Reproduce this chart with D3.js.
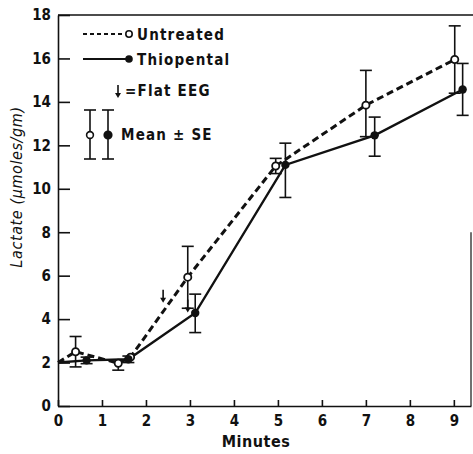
<!doctype html>
<html lang="en">
<head>
<meta charset="utf-8">
<title>Lactate vs minutes</title>
<script src="https://d3js.org/d3.v7.min.js"></script>
<style>
  body { margin: 0; background: #fff; }
  text { font-family: "DejaVu Sans Condensed", "DejaVu Sans", sans-serif; font-stretch: condensed; fill: #111; }
  .axis text { font-size: 15px; font-weight: bold; }
  .axis line, .axis path { stroke: #111; stroke-width: 1.6; }
</style>
</head>
<body>
<div id="chart"></div>
<script>
// tick labels
var minuteTicks = [0, 1, 2, 3, 4, 5, 6, 7, 8, 9];
var lactateTicks = [0, 2, 4, 6, 8, 10, 12, 14, 16, 18];

// Untreated (open circles, dashed)
var untreatedMin = [0, 0.4, 1.37, 1.65, 2.95, 4.95, 7.0, 9.02];
var untreatedLac = [2.0, 2.5, 1.97, 2.25, 5.93, 11.05, 13.85, 15.95];
var untreatedLo  = [null, 1.8, 1.65, null, 4.5, 10.7, 12.4, 14.4];
var untreatedHi  = [null, 3.2, 2.05, null, 7.35, 11.4, 15.45, 17.5];

// Thiopental (filled circles, solid)
var thioMin = [0, 0.65, 1.6, 3.12, 5.17, 7.2, 9.2];
var thioLac = [2.0, 2.1, 2.15, 4.28, 11.1, 12.46, 14.57];
var thioLo  = [null, 1.95, 2.0, 3.38, 9.6, 11.5, 13.38];
var thioHi  = [null, 2.25, 2.3, 5.15, 12.1, 13.3, 15.77];

// flat EEG arrows (tip position)
var eegMin = [2.39, 2.95];
var eegLac = [4.75, 4.3];

var W = 473, H = 454;
var svg = d3.select("#chart").append("svg")
  .attr("width", W).attr("height", H);

var x = d3.scaleLinear().domain([0, 9.39]).range([58, 471]);
var y = d3.scaleLinear().domain([0, 18]).range([406, 15]);

// axes, ticks pointing inward
svg.append("g").attr("class", "axis")
  .attr("transform", "translate(" + x(0) + ",0)")
  .call(d3.axisLeft(y).tickValues(lactateTicks).tickSizeInner(-12).tickSizeOuter(0).tickPadding(7));

svg.append("g").attr("class", "axis")
  .attr("transform", "translate(0," + y(0) + ")")
  .call(d3.axisBottom(x).tickValues(minuteTicks).tickSizeInner(-6).tickSizeOuter(0).tickPadding(9));

// frame top and right
svg.append("line").attr("x1", x(0)).attr("x2", W).attr("y1", y(18)).attr("y2", y(18))
  .attr("stroke", "#111").attr("stroke-width", 1.4);
svg.append("line").attr("x1", x(9.39)).attr("x2", x(9.39)).attr("y1", y(8)).attr("y2", y(0))
  .attr("stroke", "#111").attr("stroke-width", 1.2);

// axis titles
svg.append("text")
  .attr("transform", "translate(22," + 187 + ") rotate(-90)")
  .attr("text-anchor", "middle")
  .style("font-size", "16px").style("font-style", "italic").style("letter-spacing", "0.6px")
  .text("Lactate (\u03bcmoles/gm)");

svg.append("text")
  .attr("x", 256).attr("y", 447)
  .attr("text-anchor", "middle")
  .style("font-size", "16px").style("font-weight", "bold").style("letter-spacing", "0.5px")
  .text("Minutes");

function zip(xs, ys, lo, hi) {
  return xs.map(function(d, i) { return { m: d, v: ys[i], lo: lo[i], hi: hi[i] }; });
}
var untreated = zip(untreatedMin, untreatedLac, untreatedLo, untreatedHi);
var thio = zip(thioMin, thioLac, thioLo, thioHi);

var line = d3.line().x(function(d) { return x(d.m); }).y(function(d) { return y(d.v); });

function errorBars(data, cls) {
  var g = svg.append("g").attr("class", cls).attr("stroke", "#111").attr("stroke-width", 1.6);
  var eb = data.filter(function(d) { return d.lo !== null; });
  g.selectAll(".bar").data(eb).enter().append("line")
    .attr("x1", function(d) { return x(d.m); }).attr("x2", function(d) { return x(d.m); })
    .attr("y1", function(d) { return y(d.lo); }).attr("y2", function(d) { return y(d.hi); });
  g.selectAll(".capHi").data(eb).enter().append("line")
    .attr("x1", function(d) { return x(d.m) - 6; }).attr("x2", function(d) { return x(d.m) + 6; })
    .attr("y1", function(d) { return y(d.hi); }).attr("y2", function(d) { return y(d.hi); });
  g.selectAll(".capLo").data(eb).enter().append("line")
    .attr("x1", function(d) { return x(d.m) - 6; }).attr("x2", function(d) { return x(d.m) + 6; })
    .attr("y1", function(d) { return y(d.lo); }).attr("y2", function(d) { return y(d.lo); });
}
errorBars(untreated, "ebU");
errorBars(thio, "ebT");

svg.append("path").datum(untreated)
  .attr("d", line).attr("fill", "none").attr("stroke", "#111")
  .attr("stroke-width", 3).attr("stroke-dasharray", "7,4");
svg.append("path").datum(thio)
  .attr("d", line).attr("fill", "none").attr("stroke", "#111").attr("stroke-width", 2.4);

svg.selectAll(".ptU").data(untreated.slice(1)).enter().append("circle")
  .attr("cx", function(d) { return x(d.m); }).attr("cy", function(d) { return y(d.v); })
  .attr("r", 3.6).attr("fill", "#fff").attr("stroke", "#111").attr("stroke-width", 1.8);
svg.selectAll(".ptT").data(thio.slice(1)).enter().append("circle")
  .attr("cx", function(d) { return x(d.m); }).attr("cy", function(d) { return y(d.v); })
  .attr("r", 4.2).attr("fill", "#111");

// flat EEG arrows
function arrow(g, px, py) {
  g.append("line").attr("x1", px).attr("x2", px).attr("y1", py - 13).attr("y2", py - 4)
    .attr("stroke", "#111").attr("stroke-width", 1.6);
  g.append("path").attr("d", "M" + (px - 3) + "," + (py - 5) + "L" + (px + 3) + "," + (py - 5) + "L" + px + "," + py + "Z")
    .attr("fill", "#111");
}
var eg = svg.append("g");
eegMin.forEach(function(m, i) { arrow(eg, x(m), y(eegLac[i])); });

// legend
var lg = svg.append("g");
lg.append("line").attr("x1", 83).attr("x2", 125).attr("y1", 34).attr("y2", 34)
  .attr("stroke", "#111").attr("stroke-width", 2).attr("stroke-dasharray", "4,3");
lg.append("circle").attr("cx", 129).attr("cy", 34).attr("r", 3.2)
  .attr("fill", "#fff").attr("stroke", "#111").attr("stroke-width", 1.6);
lg.append("text").attr("x", 137).attr("y", 40).style("font-size", "15px").style("font-weight", "bold")
  .style("letter-spacing", "1.2px").text("Untreated");

lg.append("line").attr("x1", 83).attr("x2", 126).attr("y1", 59).attr("y2", 59)
  .attr("stroke", "#111").attr("stroke-width", 2);
lg.append("circle").attr("cx", 129).attr("cy", 59).attr("r", 3.8).attr("fill", "#111");
lg.append("text").attr("x", 137).attr("y", 65).style("font-size", "15px").style("font-weight", "bold")
  .style("letter-spacing", "1.2px").text("Thiopental");

arrow(lg, 118, 98);
lg.append("text").attr("x", 125).attr("y", 96).style("font-size", "15px").style("font-weight", "bold")
  .style("letter-spacing", "1.2px").text("=Flat  EEG");

[90, 108].forEach(function(cx, i) {
  lg.append("line").attr("x1", cx).attr("x2", cx).attr("y1", 110).attr("y2", 159)
    .attr("stroke", "#111").attr("stroke-width", 1.6);
  lg.append("line").attr("x1", cx - 6).attr("x2", cx + 6).attr("y1", 110).attr("y2", 110)
    .attr("stroke", "#111").attr("stroke-width", 1.6);
  lg.append("line").attr("x1", cx - 6).attr("x2", cx + 6).attr("y1", 159).attr("y2", 159)
    .attr("stroke", "#111").attr("stroke-width", 1.6);
  lg.append("circle").attr("cx", cx).attr("cy", 135).attr("r", i === 0 ? 3.4 : 3.8)
    .attr("fill", i === 0 ? "#fff" : "#111").attr("stroke", "#111").attr("stroke-width", 1.6);
});
lg.append("text").attr("x", 121).attr("y", 140).style("font-size", "15px").style("font-weight", "bold")
  .style("letter-spacing", "1.2px").text("Mean \u00b1 SE");
</script>
</body>
</html>
